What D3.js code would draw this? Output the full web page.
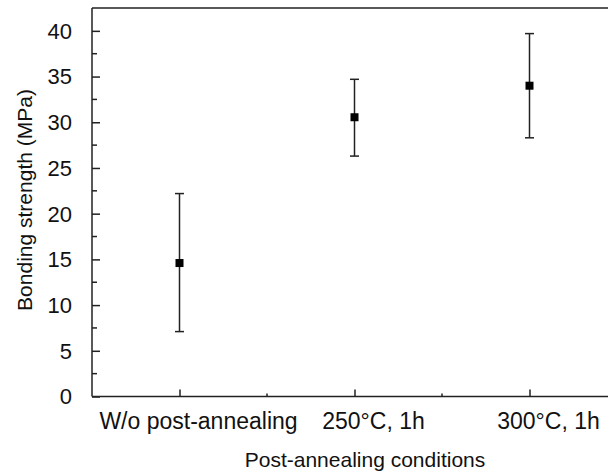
<!DOCTYPE html>
<html>
<head>
<meta charset="utf-8">
<script src="https://cdn.jsdelivr.net/npm/d3@7"></script>
<style>
  body { margin: 0; background: #fff; }
  text { font-family: "Liberation Sans", Arial, sans-serif; fill: #111; }
</style>
</head>
<body>
<div id="chart"></div>
<script>
// Data
var categories = ["W/o post-annealing", "250°C, 1h", "300°C, 1h"];
var strength = [14.6, 30.55, 34.0];
var errLow = [7.1, 26.3, 28.3];
var errHigh = [22.2, 34.7, 39.7];
var yTicks = [0, 5, 10, 15, 20, 25, 30, 35, 40];

var svgWidth = 608;
var svgHeight = 472;

var margin = { top: 8, right: -9, bottom: 75.5, left: 92 };
var width = svgWidth - margin.left - margin.right;
var height = svgHeight - margin.top - margin.bottom;

var svg = d3.select("#chart")
  .append("svg")
  .attr("width", svgWidth)
  .attr("height", svgHeight);

var chartGroup = svg.append("g")
  .attr("transform", `translate(${margin.left}, ${margin.top})`);

// x is a linear scale so categories sit on the half-steps
var xScale = d3.scaleLinear()
  .domain([0, categories.length])
  .range([0, width]);

var yScale = d3.scaleLinear()
  .domain([0, 42.5])
  .range([height, 0]);

var lineColor = "#222";

// top frame line (right side is cut off)
chartGroup.append("line")
  .attr("x1", 0).attr("x2", width).attr("y1", 0).attr("y2", 0)
  .attr("stroke", lineColor).attr("stroke-width", 1.5);

// left axis with inward ticks
var leftAxis = d3.axisRight(yScale)
  .tickValues(yTicks)
  .tickSize(8)
  .tickFormat("");
var leftG = chartGroup.append("g").call(leftAxis);
leftG.select(".domain").attr("stroke", lineColor).attr("stroke-width", 1.5)
  .attr("d", `M0,${height}V0`);
leftG.selectAll(".tick line").attr("stroke", lineColor).attr("stroke-width", 1.5);

// minor y ticks
var minorY = d3.range(2.5, 42.5, 5);
chartGroup.append("g").selectAll("line")
  .data(minorY)
  .enter()
  .append("line")
  .attr("x1", 0).attr("x2", 5)
  .attr("y1", d => yScale(d)).attr("y2", d => yScale(d))
  .attr("stroke", lineColor).attr("stroke-width", 1.5);

// y tick labels
chartGroup.append("g").selectAll("text")
  .data(yTicks)
  .enter()
  .append("text")
  .attr("x", -20)
  .attr("y", d => yScale(d))
  .attr("dy", "0.36em")
  .attr("text-anchor", "end")
  .style("font-size", "22px")
  .text(d => d);

// bottom axis
var catPos = categories.map((c, i) => i + 0.5);
var bottomAxis = d3.axisTop(xScale)
  .tickValues(catPos)
  .tickSize(7)
  .tickFormat("");
var bottomG = chartGroup.append("g")
  .attr("transform", `translate(0, ${height})`)
  .call(bottomAxis);
bottomG.select(".domain").attr("stroke", lineColor).attr("stroke-width", 1.5)
  .attr("d", `M0,0H${width}`);
bottomG.selectAll(".tick line").attr("stroke", lineColor).attr("stroke-width", 1.5);

// minor x ticks
chartGroup.append("g").selectAll("line")
  .data([1, 2])
  .enter()
  .append("line")
  .attr("x1", d => xScale(d)).attr("x2", d => xScale(d))
  .attr("y1", height).attr("y2", height - 3)
  .attr("stroke", lineColor).attr("stroke-width", 1.5);

// x category labels (sit a little right of their ticks in the original)
chartGroup.append("g").selectAll("text")
  .data(categories)
  .enter()
  .append("text")
  .attr("x", (d, i) => xScale(catPos[i]) + 19)
  .attr("y", height + 32.5)
  .attr("text-anchor", "middle")
  .style("font-size", "23px")
  .text(d => d);

// error bars
var capHalf = 4.5;
var bars = chartGroup.append("g").selectAll("g")
  .data(categories)
  .enter()
  .append("g");

bars.append("line")
  .attr("x1", (d, i) => xScale(catPos[i])).attr("x2", (d, i) => xScale(catPos[i]))
  .attr("y1", (d, i) => yScale(errLow[i])).attr("y2", (d, i) => yScale(errHigh[i]))
  .attr("stroke", lineColor).attr("stroke-width", 1.5);

bars.append("line")
  .attr("x1", (d, i) => xScale(catPos[i]) - capHalf).attr("x2", (d, i) => xScale(catPos[i]) + capHalf)
  .attr("y1", (d, i) => yScale(errHigh[i])).attr("y2", (d, i) => yScale(errHigh[i]))
  .attr("stroke", lineColor).attr("stroke-width", 1.5);

bars.append("line")
  .attr("x1", (d, i) => xScale(catPos[i]) - capHalf).attr("x2", (d, i) => xScale(catPos[i]) + capHalf)
  .attr("y1", (d, i) => yScale(errLow[i])).attr("y2", (d, i) => yScale(errLow[i]))
  .attr("stroke", lineColor).attr("stroke-width", 1.5);

// square markers
var sq = 8;
bars.append("rect")
  .attr("x", (d, i) => xScale(catPos[i]) - sq / 2)
  .attr("y", (d, i) => yScale(strength[i]) - sq / 2)
  .attr("width", sq)
  .attr("height", sq)
  .attr("fill", "#000");

// axis titles
chartGroup.append("text")
  .attr("transform", "rotate(-90)")
  .attr("x", -192)
  .attr("y", -60)
  .attr("text-anchor", "middle")
  .style("font-size", "21px")
  .text("Bonding strength (MPa)");

svg.append("text")
  .attr("x", 365)
  .attr("y", 467)
  .attr("text-anchor", "middle")
  .style("font-size", "21px")
  .text("Post-annealing conditions");
</script>
</body>
</html>
